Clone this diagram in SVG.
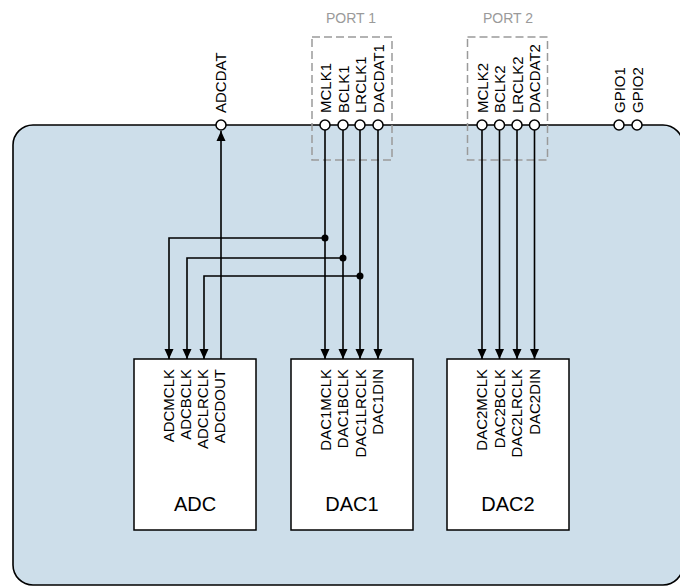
<svg xmlns="http://www.w3.org/2000/svg" width="680" height="587" viewBox="0 0 680 587">
<defs>
<style>
.body{fill:#cddeea;stroke:#000;stroke-width:1.6}
.blk{fill:#fff;stroke:#000;stroke-width:1.5}
.pin{fill:#fff;stroke:#000;stroke-width:1.5}
.port{fill:none;stroke:#9a9a9a;stroke-width:1.5;stroke-dasharray:8 4}
.w{fill:none;stroke:#000;stroke-width:1.6}
.dot{fill:#000}
.lbl{font-family:"Liberation Sans",Arial,sans-serif;font-size:15px;fill:#000}
.name{font-family:"Liberation Sans",Arial,sans-serif;font-size:20px;fill:#000;text-anchor:middle}
.ptxt{font-family:"Liberation Sans",Arial,sans-serif;font-size:14px;fill:#9a9a9a;text-anchor:middle}
.in{text-anchor:end}
</style>
<marker id="ah" markerUnits="userSpaceOnUse" markerWidth="10" markerHeight="10" refX="10" refY="5" orient="auto">
<path d="M0,0.5 L10,5 L0,9.5 z" fill="#000"/>
</marker>
</defs>

<g id="chip">
<rect class="body" x="13" y="125" width="670" height="460" rx="20" ry="20"/>
</g>

<g id="port1">
<rect class="port" x="312" y="37" width="80" height="123"/>
<text class="ptxt" x="351" y="23">PORT 1</text>
</g>
<g id="port2">
<rect class="port" x="467.5" y="37" width="80" height="123"/>
<text class="ptxt" x="508" y="23">PORT 2</text>
</g>

<g id="connectors">
<path class="w" d="M221,359 V131" marker-end="url(#ah)"/>
<path class="w" d="M325,130 V359" marker-end="url(#ah)"/>
<path class="w" d="M343,130 V359" marker-end="url(#ah)"/>
<path class="w" d="M360,130 V359" marker-end="url(#ah)"/>
<path class="w" d="M378,130 V359" marker-end="url(#ah)"/>
<path class="w" d="M325,238 H169 V359" marker-end="url(#ah)"/>
<path class="w" d="M343,258 H187 V359" marker-end="url(#ah)"/>
<path class="w" d="M360,276 H204 V359" marker-end="url(#ah)"/>
<path class="w" d="M482,130 V359" marker-end="url(#ah)"/>
<path class="w" d="M499.5,130 V359" marker-end="url(#ah)"/>
<path class="w" d="M517,130 V359" marker-end="url(#ah)"/>
<path class="w" d="M534.5,130 V359" marker-end="url(#ah)"/>
<circle class="dot" cx="325" cy="238" r="3.5"/>
<circle class="dot" cx="343" cy="258" r="3.5"/>
<circle class="dot" cx="360" cy="276" r="3.5"/>
</g>

<g id="pins">
<g id="pin-adcdat"><circle class="pin" cx="221" cy="125" r="5"/><text class="lbl" transform="translate(226,113) rotate(-90)">ADCDAT</text></g>
<g id="pin-mclk1"><circle class="pin" cx="325" cy="125" r="5"/><text class="lbl" transform="translate(330.5,113) rotate(-90)">MCLK1</text></g>
<g id="pin-bclk1"><circle class="pin" cx="343" cy="125" r="5"/><text class="lbl" transform="translate(348.5,113) rotate(-90)">BCLK1</text></g>
<g id="pin-lrclk1"><circle class="pin" cx="360" cy="125" r="5"/><text class="lbl" transform="translate(365.5,113) rotate(-90)">LRCLK1</text></g>
<g id="pin-dacdat1"><circle class="pin" cx="378" cy="125" r="5"/><text class="lbl" transform="translate(383.5,113) rotate(-90)">DACDAT1</text></g>
<g id="pin-mclk2"><circle class="pin" cx="482" cy="125" r="5"/><text class="lbl" transform="translate(487.5,113) rotate(-90)">MCLK2</text></g>
<g id="pin-bclk2"><circle class="pin" cx="499.5" cy="125" r="5"/><text class="lbl" transform="translate(505,113) rotate(-90)">BCLK2</text></g>
<g id="pin-lrclk2"><circle class="pin" cx="517" cy="125" r="5"/><text class="lbl" transform="translate(522.5,113) rotate(-90)">LRCLK2</text></g>
<g id="pin-dacdat2"><circle class="pin" cx="534.5" cy="125" r="5"/><text class="lbl" transform="translate(540,113) rotate(-90)">DACDAT2</text></g>
<g id="pin-gpio1"><circle class="pin" cx="619" cy="125" r="5"/><text class="lbl" transform="translate(624.5,113) rotate(-90)">GPIO1</text></g>
<g id="pin-gpio2"><circle class="pin" cx="637" cy="125" r="5"/><text class="lbl" transform="translate(642.5,113) rotate(-90)">GPIO2</text></g>
</g>

<g id="adc">
<rect class="blk" x="134" y="359" width="122" height="171"/>
<text class="lbl in" transform="translate(174,369) rotate(-90)">ADCMCLK</text>
<text class="lbl in" transform="translate(191,369) rotate(-90)">ADCBCLK</text>
<text class="lbl in" transform="translate(208,369) rotate(-90)">ADCLRCLK</text>
<text class="lbl in" transform="translate(225,369) rotate(-90)">ADCDOUT</text>
<text class="name" x="195" y="511">ADC</text>
</g>

<g id="dac1">
<rect class="blk" x="291" y="359" width="122" height="171"/>
<text class="lbl in" transform="translate(331,369) rotate(-90)">DAC1MCLK</text>
<text class="lbl in" transform="translate(348,369) rotate(-90)">DAC1BCLK</text>
<text class="lbl in" transform="translate(365.5,369) rotate(-90)">DAC1LRCLK</text>
<text class="lbl in" transform="translate(383,369) rotate(-90)">DAC1DIN</text>
<text class="name" x="352" y="511">DAC1</text>
</g>

<g id="dac2">
<rect class="blk" x="447" y="359" width="122" height="171"/>
<text class="lbl in" transform="translate(487,369) rotate(-90)">DAC2MCLK</text>
<text class="lbl in" transform="translate(504.5,369) rotate(-90)">DAC2BCLK</text>
<text class="lbl in" transform="translate(522,369) rotate(-90)">DAC2LRCLK</text>
<text class="lbl in" transform="translate(539.5,369) rotate(-90)">DAC2DIN</text>
<text class="name" x="508" y="511">DAC2</text>
</g>
</svg>
